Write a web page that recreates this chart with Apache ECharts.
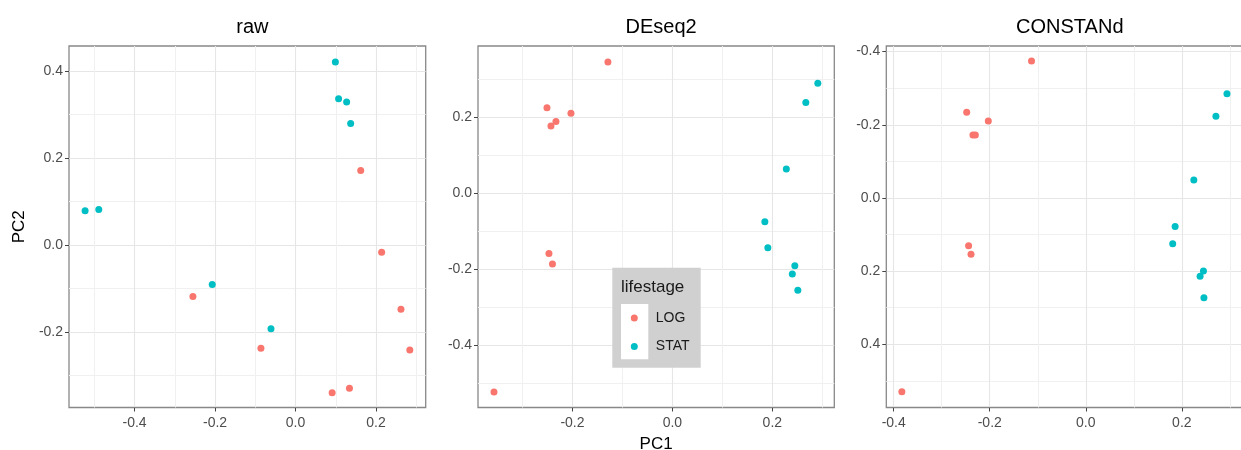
<!DOCTYPE html>
<html>
<head>
<meta charset="utf-8">
<script src="https://cdn.jsdelivr.net/npm/echarts@6/dist/echarts.min.js"></script>
<style>
html,body{margin:0;padding:0;background:#fff;}
#chart{width:1241px;height:450px;}
</style>
</head>
<body>
<div id="chart"></div>
<script>
// ---- data ----
const panelTitles = ['raw', 'DEseq2', 'CONSTANd'];
const groups = ['LOG', 'STAT'];
const groupColors = ['#F8766D', '#00BFC4'];

const rawLOG = [[0.162,0.172],[0.214,-0.016],[-0.255,-0.118],[-0.086,-0.237],[0.262,-0.147],[0.284,-0.241],[0.091,-0.339],[0.134,-0.329]];
const rawSTAT = [[0.099,0.421],[0.107,0.337],[0.127,0.329],[0.137,0.280],[-0.523,0.079],[-0.489,0.082],[-0.207,-0.090],[-0.061,-0.192]];
const deseqLOG = [[-0.129,0.346],[-0.251,0.225],[-0.203,0.211],[-0.233,0.189],[-0.243,0.177],[-0.247,-0.159],[-0.240,-0.187],[-0.357,-0.524]];
const deseqSTAT = [[0.291,0.290],[0.267,0.239],[0.228,0.064],[0.185,-0.075],[0.191,-0.144],[0.245,-0.191],[0.240,-0.213],[0.251,-0.256]];
const constandLOG = [[-0.113,-0.374],[-0.248,-0.234],[-0.203,-0.210],[-0.235,-0.172],[-0.230,-0.172],[-0.244,0.131],[-0.239,0.154],[-0.383,0.530]];
const constandSTAT = [[0.294,-0.285],[0.271,-0.223],[0.225,-0.049],[0.186,0.078],[0.181,0.125],[0.245,0.200],[0.238,0.214],[0.246,0.273]];

const xMajor = [[-0.4,-0.2,0,0.2],[-0.2,0,0.2],[-0.4,-0.2,0,0.2]];
const xMinor = [[-0.5,-0.3,-0.1,0.1,0.3],[-0.3,-0.1,0.1,0.3],[-0.3,-0.1,0.1,0.3]];
const yMajor = [[-0.2,0,0.2,0.4],[-0.4,-0.2,0,0.2],[-0.4,-0.2,0,0.2,0.4]];
const yMinor = [[-0.3,-0.1,0.1,0.3],[-0.5,-0.3,-0.1,0.1,0.3],[-0.3,-0.1,0.1,0.3,0.5]];
const xRange = [[-0.563,0.3235],[-0.389,0.324],[-0.4154,0.328]];
const yRange = [[-0.373,0.458],[-0.565,0.388],[-0.4153,0.573]];
const yInverse = [false, false, true];
const panelData = [[rawLOG, rawSTAT],[deseqLOG, deseqSTAT],[constandLOG, constandSTAT]];

// ---- layout ----
const FONT = '"Liberation Sans", Arial, Helvetica, sans-serif';
const gridBoxes = [
  {left: 69, top: 46, width: 356.7, height: 361.5},
  {left: 478, top: 46, width: 356.3, height: 361.5},
  {left: 886.3, top: 46, width: 357, height: 361.5}
];
const fmt = v => Number(v).toFixed(1);

const grids = [], xAxes = [], yAxes = [], series = [], titles = [];
gridBoxes.forEach((g, i) => {
  grids.push(Object.assign({
    show: true, borderColor: '#888888', borderWidth: 1.3, backgroundColor: '#ffffff',
    containLabel: false, outerBoundsMode: 'none'
  }, g));
  titles.push({
    text: panelTitles[i], left: g.left + g.width / 2, top: 12, textAlign: 'center',
    textStyle: {fontFamily: FONT, fontSize: 20, fontWeight: 'normal', color: '#000000'}
  });
  // major x axis
  xAxes.push({
    type: 'value', gridIndex: i, min: xRange[i][0], max: xRange[i][1], position: 'bottom',
    axisLine: {show: false, onZero: false},
    axisTick: {show: true, inside: false, length: 4, customValues: xMajor[i], lineStyle: {color: '#444444', width: 1}},
    axisLabel: {show: true, customValues: xMajor[i], formatter: fmt, margin: 9, color: '#4d4d4d', fontSize: 14, fontFamily: FONT},
    splitLine: {show: true, lineStyle: {color: '#e6e6e6', width: 1.1}},
    name: i === 1 ? 'PC1' : '', nameLocation: 'middle', nameGap: 26,
    nameTextStyle: {fontFamily: FONT, fontSize: 17, color: '#000000'}
  });
  // minor x axis
  xAxes.push({
    type: 'value', gridIndex: i, min: xRange[i][0], max: xRange[i][1], position: 'top',
    axisLine: {show: false, onZero: false}, axisLabel: {show: false},
    axisTick: {show: false, customValues: xMinor[i]},
    splitLine: {show: true, lineStyle: {color: '#f0f0f0', width: 1}}
  });
  yAxes.push({
    type: 'value', gridIndex: i, min: yRange[i][0], max: yRange[i][1], inverse: yInverse[i], position: 'left',
    axisLine: {show: false, onZero: false},
    axisTick: {show: true, inside: false, length: 4, customValues: yMajor[i], lineStyle: {color: '#444444', width: 1}},
    axisLabel: {show: true, customValues: yMajor[i], formatter: fmt, margin: 6, color: '#4d4d4d', fontSize: 14, fontFamily: FONT},
    splitLine: {show: true, lineStyle: {color: '#e6e6e6', width: 1.1}},
    name: i === 0 ? 'PC2' : '', nameLocation: 'middle', nameGap: 41, nameRotate: 90,
    nameTextStyle: {fontFamily: FONT, fontSize: 17, color: '#000000'}
  });
  yAxes.push({
    type: 'value', gridIndex: i, min: yRange[i][0], max: yRange[i][1], inverse: yInverse[i], position: 'right',
    axisLine: {show: false, onZero: false}, axisLabel: {show: false},
    axisTick: {show: false, customValues: yMinor[i]},
    splitLine: {show: true, lineStyle: {color: '#f0f0f0', width: 1}}
  });
  groups.forEach((name, k) => {
    series.push({
      type: 'scatter', name: name, xAxisIndex: 2 * i, yAxisIndex: 2 * i,
      data: panelData[i][k], symbol: 'circle', symbolSize: 7, z: 5,
      itemStyle: {color: groupColors[k], opacity: 1}, emphasis: {disabled: true}, silent: true
    });
  });
});

const chart = echarts.init(document.getElementById('chart'), null, {renderer: 'canvas'});
chart.setOption({
  animation: false,
  backgroundColor: '#ffffff',
  textStyle: {fontFamily: FONT},
  title: titles,
  grid: grids,
  xAxis: xAxes,
  yAxis: yAxes,
  series: series,
  legend: {
    data: groups, orient: 'vertical', left: 630.8, top: 311,
    icon: 'circle', itemWidth: 7, itemHeight: 7, itemGap: 14.6,
    textStyle: {fontFamily: FONT, fontSize: 14, color: '#1a1a1a', lineHeight: 14, padding: [0, 0, 0, 13]},
    selectedMode: false, padding: 0, z: 20
  },
  graphic: [
    {type: 'rect', shape: {x: 612.3, y: 267.7, width: 88.4, height: 100}, style: {fill: '#d0d0d0'}, z: 10, silent: true},
    {type: 'rect', shape: {x: 621, y: 304, width: 27.3, height: 55.3}, style: {fill: '#ffffff'}, z: 11, silent: true},
    {type: 'text', x: 621, y: 287, style: {text: 'lifestage', font: '17px ' + FONT, fill: '#1a1a1a', textVerticalAlign: 'middle', verticalAlign: 'middle'}, z: 11, silent: true}
  ]
});
</script>
</body>
</html>
